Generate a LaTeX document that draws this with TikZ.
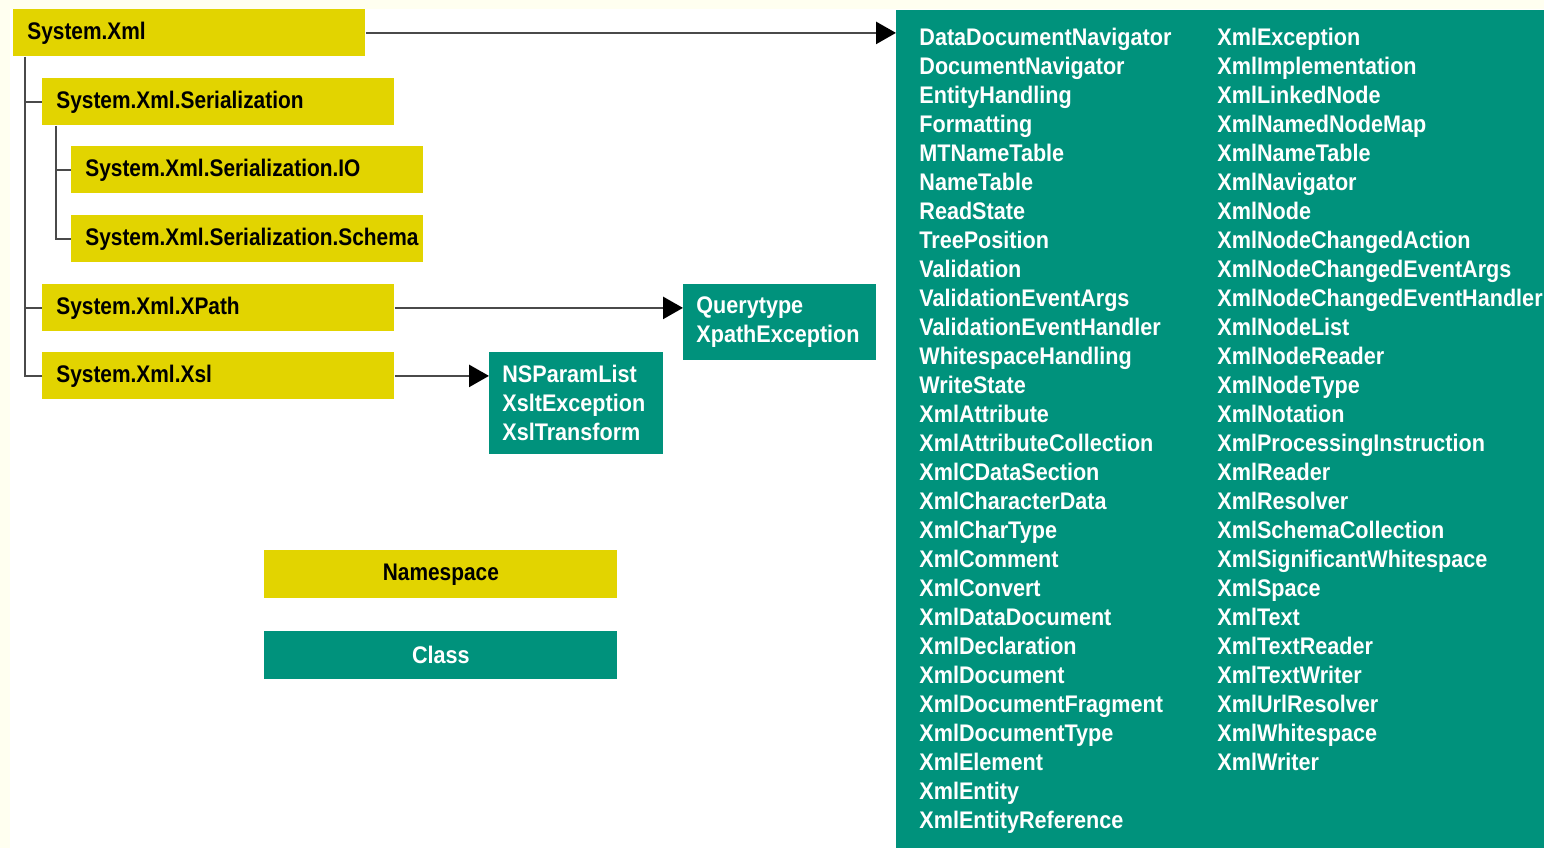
\documentclass[tikz,border=0pt]{standalone}
\usepackage{fontspec}
\setmainfont{Liberation Sans}[FakeStretch=0.9]
\newfontfamily\nsfont{Liberation Sans}[FakeStretch=0.87]
\usetikzlibrary{arrows.meta}
\definecolor{nsyellow}{HTML}{E2D400}
\definecolor{clteal}{HTML}{00927C}
\definecolor{cream}{HTML}{FFFFF0}
\definecolor{linegray}{HTML}{4A4A4A}

\begin{document}
\begin{tikzpicture}[
    x=0.5pt,
    y=-0.5pt,
    every node/.style={font=\bfseries\fontsize{12}{14.5}\selectfont},
    ns/.style={fill=nsyellow, anchor=north west, text width=162pt,
        inner xsep=7pt, inner ysep=0pt, minimum height=23.5pt, align=left,
        font=\nsfont\bfseries\fontsize{12}{14.5}\selectfont},
    cl/.style={fill=clteal, text=white, anchor=north west,
        inner xsep=6.5pt, inner ysep=0pt, align=left},
    legend/.style={anchor=north west, minimum width=176.5pt,
        minimum height=24pt, inner sep=0pt},
    tree/.style={linegray, line width=1.3pt},
    link/.style={tree, -{Triangle[length=10pt,width=11pt,black]}}
  ]
  \useasboundingbox (0,0) rectangle (1544,848);
  \fill[cream] (0,0) rectangle (1544,848);
  \fill[white] (10,9) rectangle (1544,848);

  \node[ns] (xml) at (13,9) {System.Xml};
  \node[ns] (ser) at (42,78) {System.Xml.Serialization};
  \node[ns] (io) at (71,146) {System.Xml.Serialization.IO};
  \node[ns] (schema) at (71,215) {System.Xml.Serialization.Schema};
  \node[ns] (xpath) at (42,284) {System.Xml.XPath};
  \node[ns] (xsl) at (42,352) {System.Xml.Xsl};

  \node[cl, text width=83.5pt, minimum height=38pt] (qt) at (683,284)
  {Querytype\\XpathException};
  \node[cl, text width=74pt, minimum height=51pt] (nsp) at (489,352)
  {NSParamList\\XsltException\\XslTransform};

  \node[fill=clteal, anchor=north west, minimum width=324pt,
    minimum height=419pt, inner sep=0pt] (classes) at (896,10) {};
  \begin{scope}[every node/.append style={anchor=north west, text=white,
        inner sep=0pt, align=left}]
    \node (colA) at (919,28) {DataDocumentNavigator\\DocumentNavigator\\
      EntityHandling\\Formatting\\MTNameTable\\NameTable\\ReadState\\
      TreePosition\\Validation\\ValidationEventArgs\\ValidationEventHandler\\
      WhitespaceHandling\\WriteState\\XmlAttribute\\XmlAttributeCollection\\
      XmlCDataSection\\XmlCharacterData\\XmlCharType\\XmlComment\\XmlConvert\\
      XmlDataDocument\\XmlDeclaration\\XmlDocument\\XmlDocumentFragment\\
      XmlDocumentType\\XmlElement\\XmlEntity\\XmlEntityReference};
    \node (colB) at (1217,28) {XmlException\\XmlImplementation\\
      XmlLinkedNode\\XmlNamedNodeMap\\XmlNameTable\\XmlNavigator\\XmlNode\\
      XmlNodeChangedAction\\XmlNodeChangedEventArgs\\
      XmlNodeChangedEventHandler\\XmlNodeList\\XmlNodeReader\\XmlNodeType\\
      XmlNotation\\XmlProcessingInstruction\\XmlReader\\XmlResolver\\
      XmlSchemaCollection\\XmlSignificantWhitespace\\XmlSpace\\XmlText\\
      XmlTextReader\\XmlTextWriter\\XmlUrlResolver\\XmlWhitespace\\XmlWriter};
  \end{scope}

  \node[legend, fill=nsyellow, font=\nsfont\bfseries\fontsize{12}{14.5}\selectfont]
  (legns) at (264,550) {Namespace};
  \node[legend, fill=clteal, text=white] (legcl) at (264,631) {Class};

  \draw[tree] ([xshift=6pt]xml.south west) |- (ser.west);
  \draw[tree] ([xshift=6pt]xml.south west) |- (xpath.west);
  \draw[tree] ([xshift=6pt]xml.south west) |- (xsl.west);
  \draw[tree] ([xshift=7pt]ser.south west) |- (io.west);
  \draw[tree] ([xshift=7pt]ser.south west) |- (schema.west);

  \draw[link] (xml.east) -- (xml.east -| classes.west);
  \draw[link] (xpath.east) -- (xpath.east -| qt.west);
  \draw[link] (xsl.east) -- (xsl.east -| nsp.west);
\end{tikzpicture}
\end{document}
